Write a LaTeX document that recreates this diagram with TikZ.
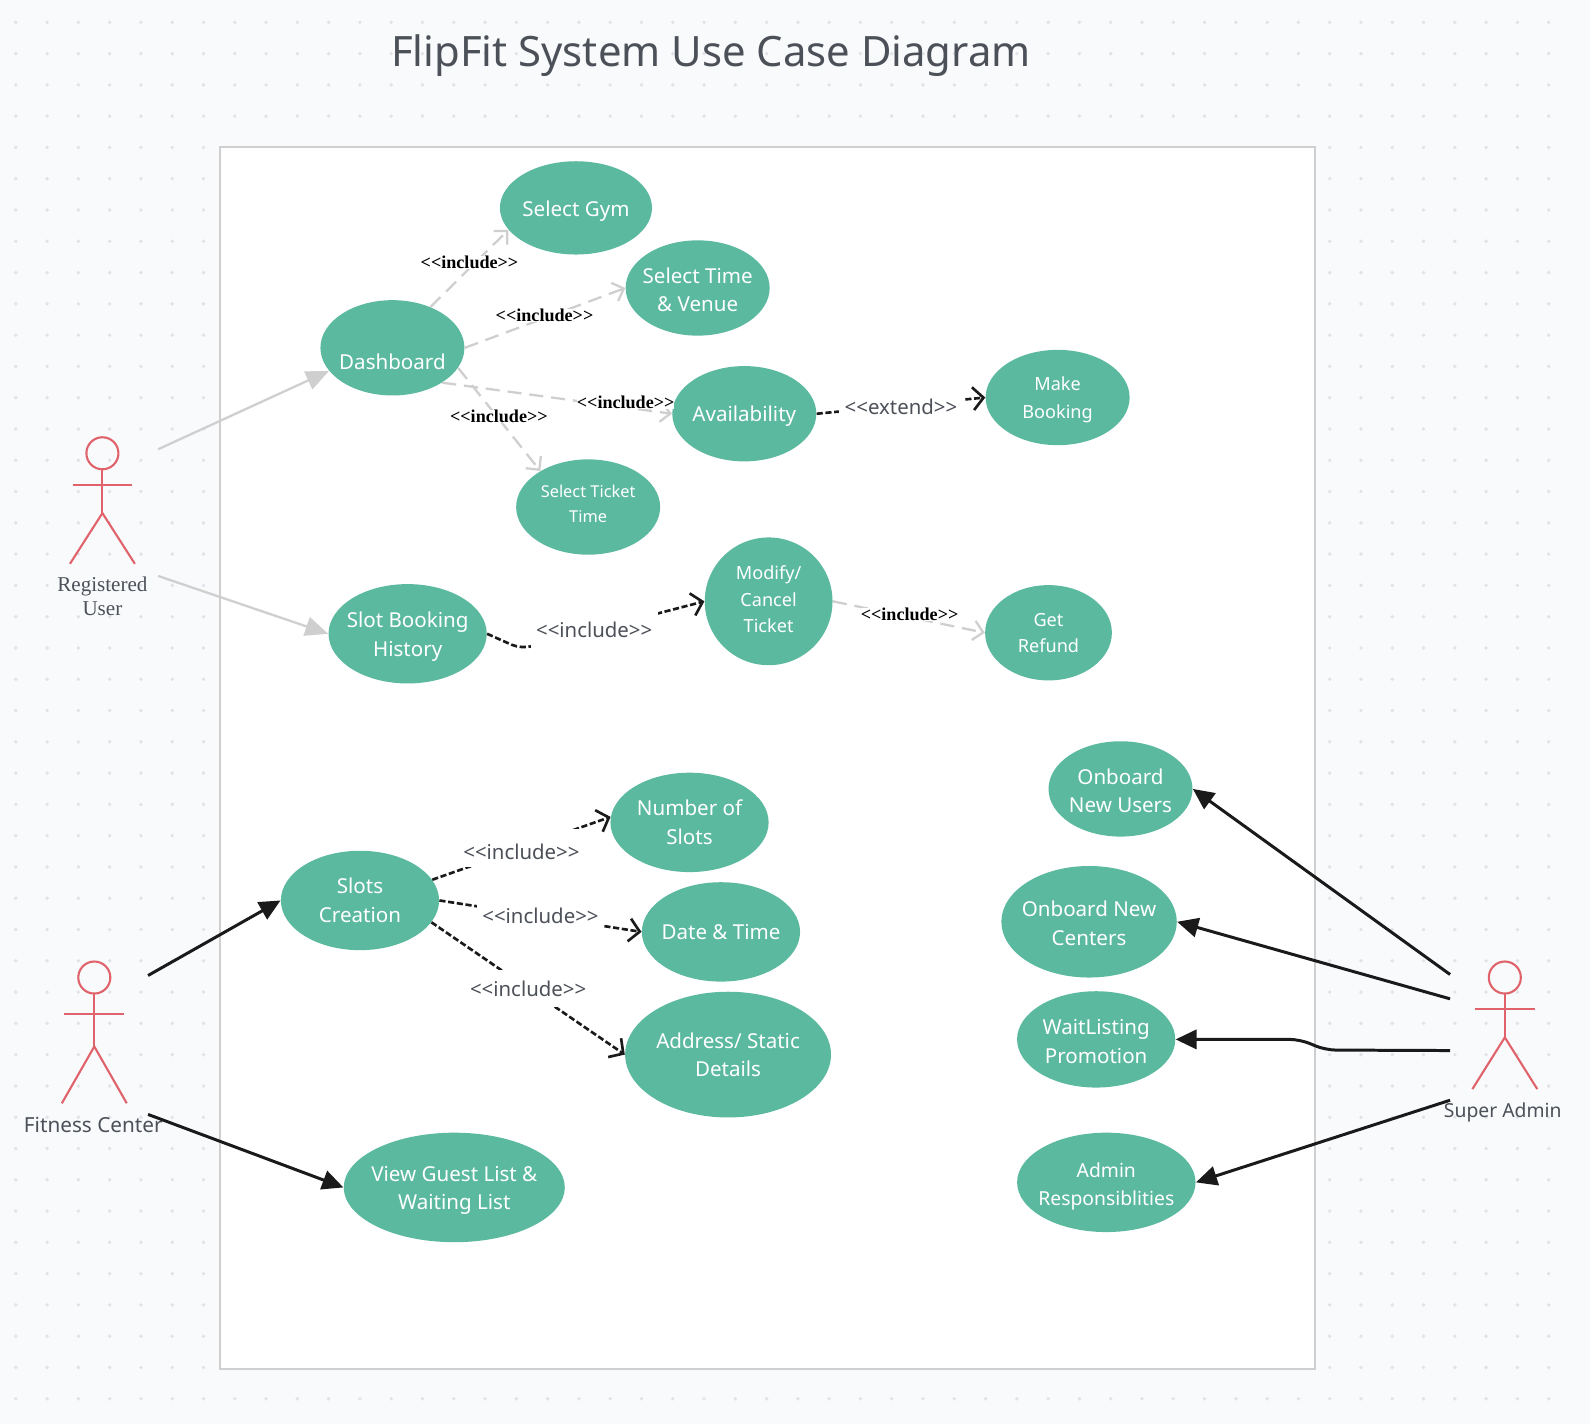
\documentclass[tikz,border=0pt]{standalone}
\usepackage{fontspec}
\setmainfont{Noto Sans}
\newfontfamily\serifface{Liberation Serif}
\usetikzlibrary{arrows.meta,shapes.geometric}

\definecolor{pagebg}{HTML}{F9FAFC}
\definecolor{griddot}{HTML}{E1E3E8}
\definecolor{framegrey}{HTML}{CFCFCF}
\definecolor{casegreen}{HTML}{5BB99F}
\definecolor{actorred}{HTML}{E0636B}
\definecolor{inkblack}{HTML}{1A1A1A}
\definecolor{labelgrey}{HTML}{4C5058}

\newcommand{\inclabel}{<{}<include>{}>}
\newcommand{\dropline}[1]{\rule{0pt}{#1pt}}
\newcommand{\liftline}[1]{\rule[-#1pt]{0pt}{0pt}}
\newcommand{\stickman}[5]{%
	\draw[actorline] (#1,#2) circle (15.8);
	\draw[actorline] (#1,#2+15.8) -- (#1,#4);
	\draw[actorline] (#1-29.5,#3) -- (#1+29.5,#3);
	\draw[actorline] (#1-32,#5) -- (#1,#4) -- (#1+32,#5);
}

\tikzset{
	usecase/.style 2 args={ellipse,fill=casegreen,text=white,align=center,inner xsep=-15pt,inner ysep=-8pt,
		minimum width=#1*0.02028cm,minimum height=#2*0.02028cm,font=\fontsize{11.7}{16.2}\selectfont},
	casetext/.style={text=white,align=center,inner sep=0pt,font=\fontsize{11.7}{16.2}\selectfont},
	actorline/.style={draw=actorred,line width=1.2pt},
	actorname/.style={text=labelgrey,align=center,inner sep=0pt,font=\fontsize{11.4}{16}\selectfont},
	greylink/.style={draw=framegrey,line width=1.3pt,-{Triangle[length=13pt,width=11pt,fill=framegrey]}},
	greyinc/.style={draw=framegrey,line width=1.3pt,dash pattern=on 8pt off 4.5pt,-{Straight Barb[length=5.5pt,width=11pt]}},
	blackinc/.style={draw=inkblack,line width=1.5pt,dash pattern=on 3.5pt off 1.5pt,-{Straight Barb[length=6pt,width=13pt]}},
	blacklink/.style={draw=inkblack,line width=1.7pt,-{Triangle[length=12pt,width=11pt,fill=inkblack]}},
	boldinc/.style={fill=white,text=black,inner sep=0pt,font=\serifface\bfseries\fontsize{10.3}{12}\selectfont},
	plaininc/.style={fill=white,text=labelgrey,inner xsep=3pt,inner ysep=0pt,minimum height=21.5pt,font=\fontsize{11.6}{14}\selectfont},
}

\begin{document}
\begin{tikzpicture}[x=0.02028cm,y=-0.02028cm]
	\useasboundingbox (0,0) rectangle (1568,1404.3);
	\fill[pagebg] (0,0) rectangle (1568,1404.3);
	\foreach \i in {0,...,49}
		\foreach \j in {0,...,44}
			\fill[griddot] ({15.6+\i*30.85},{22+\j*30.85}) circle (1.9);
	\draw[draw=framegrey,fill=white,line width=1.4pt] (217,145) rectangle (1297,1350);

	\node[text=labelgrey,inner sep=0pt,font=\fontsize{23.8}{28}\selectfont] (diagtitle) at (701,55) {FlipFit System Use Case Diagram};

	% use cases
	\node[usecase={150}{92}] (selectgym) at (568,205) {\dropline{12.1}Select Gym};
	\node[usecase={142}{94}] (selecttime) at (688,284) {\dropline{11}Select Time\\\& Venue};
	\node[usecase={142}{94}] (dashboard) at (387,343) {};
	\node[casetext] (dashboardtext) at (387,357) {Dashboard};
	\node[usecase={142}{94}] (availability) at (734,408) {\dropline{12.1}Availability};
	\node[usecase={142}{94},font=\fontsize{10.3}{15.5}\selectfont] (makebooking) at (1043,392) {\dropline{10.3}Make\\Booking};
	\node[usecase={142}{94},font=\fontsize{9.3}{14}\selectfont] (selectticket) at (580,500) {Select Ticket\\Time\liftline{4}};
	\node[usecase={156}{98}] (slothistory) at (402,625) {\dropline{12.1}Slot Booking\\History};
	\node[usecase={126}{126},font=\fontsize{10.3}{15}\selectfont] (modifyticket) at (758,593) {Modify/\\Cancel\\Ticket\liftline{2.3}};
	\node[usecase={125}{94},font=\fontsize{10.3}{15}\selectfont] (getrefund) at (1034,624) {Get\\Refund};

	\node[usecase={156}{98}] (slotscreate) at (355,888) {Slots\\Creation};
	\node[usecase={156}{98}] (numslots) at (680,811) {Number of\\Slots};
	\node[usecase={156}{98}] (datetime) at (711,919) {Date \& Time};
	\node[usecase={203}{124}] (address) at (718,1040) {Address/ Static\\Details};
	\node[usecase={218}{108}] (guestlist) at (448,1171) {\dropline{12.1}View Guest List \&\\Waiting List};

	\node[usecase={142}{94}] (newusers) at (1105,778) {\dropline{11}Onboard\\New Users};
	\node[usecase={173}{110}] (newcenters) at (1074,909) {\dropline{10.5}Onboard New\\Centers};
	\node[usecase={156}{95}] (waitlisting) at (1081,1025) {\dropline{11}WaitListing\\Promotion};
	\node[usecase={176}{98},font=\fontsize{11}{16.2}\selectfont] (adminresp) at (1091,1166) {\dropline{13.3}Admin\\Responsiblities};

	% actors
	\stickman{101}{447}{478}{506}{556}
	\stickman{93}{964}{1000}{1032}{1088}
	\stickman{1484}{964}{995}{1023}{1074}
	\node[actorname,font=\serifface\fontsize{12}{14}\selectfont] (reguser) at (101,588) {Registered\\User};
	\node[actorname,font=\fontsize{11.8}{14}\selectfont] (fitcenter) at (92,1109) {Fitness Center};
	\node[actorname,font=\fontsize{11}{14}\selectfont] (superadmin) at (1482,1097) {Super Admin};

	\coordinate (regtop) at (156,443);
	\coordinate (regbot) at (156,568);
	\coordinate (fittop) at (146,962);
	\coordinate (fitbot) at (146,1099);
	\coordinate (supa) at (1430,961);
	\coordinate (supb) at (1430,985);
	\coordinate (supc) at (1430,1036);
	\coordinate (supd) at (1430,1085);

	% registered user
	\draw[greylink] (regtop) -- (dashboard.200);
	\draw[greylink] (regbot) -- (slothistory.180);
	\draw[greyinc] (dashboard.47) -- (selectgym.198);
	\draw[greyinc] (dashboard.0) -- (selecttime.180);
	\draw[greyinc] (dashboard.-35) -- (availability.180);
	\draw[greyinc] (dashboard.-17) -- (selectticket.143);
	\draw[greyinc] (modifyticket.0) -- (getrefund.180);
	\node[boldinc] (incgym) at (463,259) {\inclabel};
	\node[boldinc] (inctime) at (537,311) {\inclabel};
	\node[boldinc] (incavail) at (617,397) {\inclabel};
	\node[boldinc] (incticket) at (492,411) {\inclabel};
	\node[boldinc] (increfund) at (897,606) {\inclabel};
	\draw[blackinc] (availability.0) -- (makebooking.180) node[plaininc,midway,yshift=-0.5pt] (extmake) {<{}<extend>{}>};
	\draw[blackinc,rounded corners=6pt] (slothistory.0) -- (514,640) -- (modifyticket.180);
	\node[plaininc] (incmodify) at (586,621) {\inclabel};

	% fitness center
	\draw[blacklink] (fittop) -- (slotscreate.180);
	\draw[blacklink] (fitbot) -- (guestlist.180);
	\draw[blackinc] (slotscreate.16) -- (numslots.176) node[plaininc,midway] (incnum) {\dropline{13}\inclabel};
	\draw[blackinc] (slotscreate.0) -- (datetime.180) node[plaininc,midway] (incdate) {\inclabel};
	\draw[blackinc] (slotscreate.-17) -- (address.180) node[plaininc,midway] (incaddr) {\inclabel};

	% super admin
	\draw[blacklink] (supa) -- (newusers.0);
	\draw[blacklink] (supb) -- (newcenters.0);
	\draw[blacklink,rounded corners=6pt] (supc) -- (1307,1035.5) -- (1282,1025) -- (waitlisting.0);
	\draw[blacklink] (supd) -- (adminresp.0);
\end{tikzpicture}
\end{document}
